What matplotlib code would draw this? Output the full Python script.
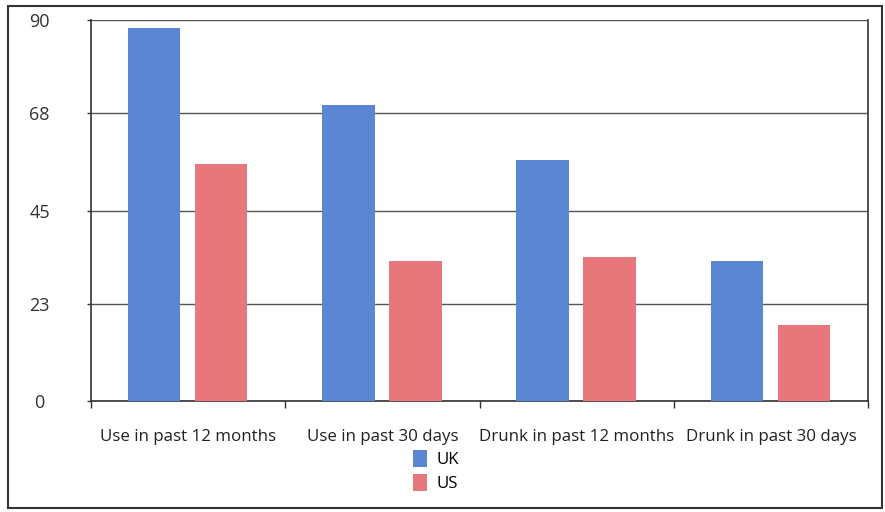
#!/usr/bin/env python3

import numpy as np
import matplotlib
matplotlib.use('Agg')
from matplotlib import pyplot as plt
from matplotlib.patches import Rectangle

categories = ['Use in past 12 months', 'Use in past 30 days',
              'Drunk in past 12 months', 'Drunk in past 30 days']
uk = [88, 70, 57, 33]
us = [56, 33, 34, 18]
yticks = [0, 23, 45, 68, 90]

blue = '#5b86d3'
red = '#e8777c'

plt.rcParams['font.family'] = ['Open Sans', 'DejaVu Sans']

fig = plt.figure(figsize=(8.85, 5.12), dpi=100)
ax = fig.add_axes([91/885, 1 - 401/512, (868-91)/885, (401-20)/512])

x = np.arange(len(categories))
w = 0.27
ax.bar(x - 0.175, uk, w, color=blue, label='UK', zorder=3)
ax.bar(x + 0.17, us, w, color=red, label='US', zorder=3)

ax.set_xlim(-0.5, 3.5)
ax.set_ylim(0, 90)
ax.set_yticks(yticks)
ax.set_yticklabels([str(v) for v in yticks], fontsize=13, color='#333333', ha='center')
ax.grid(axis='y', color='#555555', linewidth=1.0, zorder=1)
ax.tick_params(axis='y', length=3, width=1, color='#333333', pad=34)

ax.set_xticks(x)
ax.set_xticklabels(categories, fontsize=12.2, color='#222222')
ax.tick_params(axis='x', which='major', length=0, pad=20)
ax.set_xticks(np.arange(-0.5, 4.0, 1.0), minor=True)
ax.tick_params(axis='x', which='minor', length=5, width=1, color='#333333', direction='out')

for s in ['left', 'right', 'bottom']:
    ax.spines[s].set_color('#333333')
    ax.spines[s].set_linewidth(1.2)
ax.spines['top'].set_visible(False)

fig.legend(loc='center', bbox_to_anchor=(0.493, 0.08), ncol=1, frameon=False,
           fontsize=12.2, handlelength=0.8, handleheight=1.17, handletextpad=0.6,
           labelspacing=0.35)

fig.patches.append(Rectangle((8/885, 4/512), 874/885, 502/512, transform=fig.transFigure,
                             fill=False, edgecolor='#333333', linewidth=1.5))

plt.savefig('out.png', dpi=100)
